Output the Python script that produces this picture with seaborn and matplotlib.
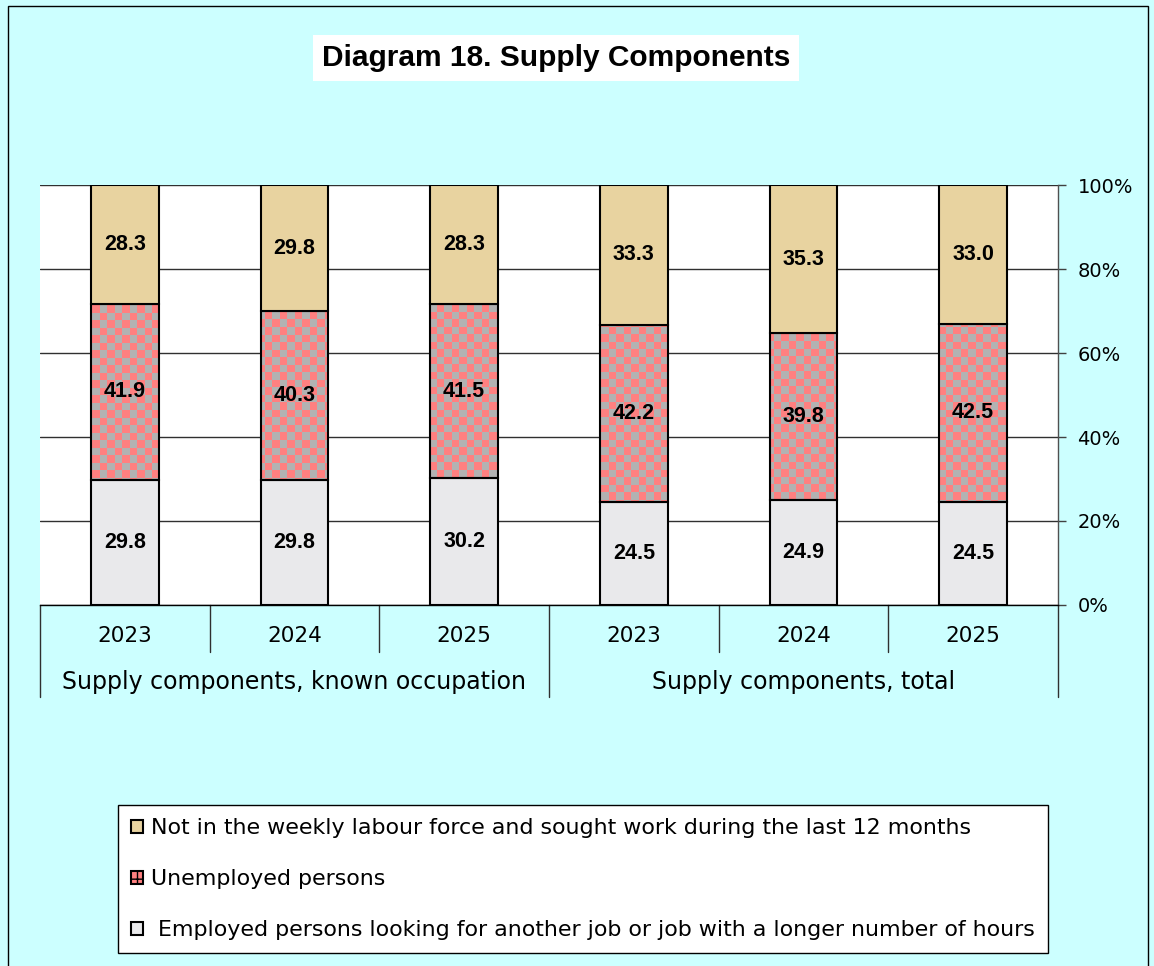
"""Diagram 18: supply components, stacked 100% bars for two groups of years."""

import matplotlib.pyplot as plt
import matplotlib.transforms as mtransforms
import numpy as np
import seaborn as sns
from matplotlib.patches import Patch, Rectangle

years = ["2023", "2024", "2025", "2023", "2024", "2025"]
groups = ["Supply components, known occupation", "Supply components, total"]
slots = ["known 2023", "known 2024", "known 2025", "total 2023", "total 2024", "total 2025"]

employed = np.array([29.8, 29.8, 30.2, 24.5, 24.9, 24.5])
unemployed = np.array([41.9, 40.3, 41.5, 42.2, 39.8, 42.5])
not_in_lf = np.array([28.3, 29.8, 28.3, 33.3, 35.3, 33.0])

series_names = [
    "Not in the weekly labour force and sought work during the last 12 months",
    "Unemployed persons",
    " Employed persons looking for another job or job with a longer number of hours",
]

_BG = "#CCFFFF"
_TAN = "#E8D3A0"
_PINK = "#FF8080"
_GREY = "#B2B2B2"
_MARBLE = "#E9E9EB"

sns.set_theme(style="white")
plt.rcParams["font.family"] = ["DejaVu Sans"]
plt.rcParams["text.color"] = "black"
plt.rcParams["hatch.color"] = _GREY

fig = plt.figure(figsize=(11.54, 9.66), dpi=100)
fig.patch.set_facecolor(_BG)
ax = fig.add_axes([40 / 1154, 1 - 605 / 966, 1018 / 1154, 420 / 966])
ax.set_facecolor("white")

bar_kw = dict(order=slots, width=0.4, edgecolor="black", linewidth=1.5,
              errorbar=None, saturation=1, ax=ax, zorder=3)

sns.barplot(x=slots, y=employed, color=_MARBLE, **bar_kw)
emp_bars = ax.containers[-1]
sns.barplot(x=slots, y=unemployed, bottom=employed, color=_PINK, **bar_kw)
unemp_bars = ax.containers[-1]
sns.barplot(x=slots, y=not_in_lf, bottom=employed + unemployed, color=_TAN, **bar_kw)
nlf_bars = ax.containers[-1]

# checkerboard fill for the unemployed segments
cells = np.indices((56, 136)).sum(axis=0) % 2
checker = np.where(cells[..., None] == 1,
                   np.array([255, 128, 128]) / 255, np.array([178, 178, 178]) / 255)
for bar in unemp_bars:
    bar.set_facecolor("none")
    bar.set_edgecolor("black")
    img = ax.imshow(checker, extent=[0, 1, 0, 1], transform=ax.transAxes,
                    aspect="auto", interpolation="nearest", zorder=2.5)
    img.set_clip_path(bar)

for bars, vals in [(emp_bars, employed), (unemp_bars, unemployed), (nlf_bars, not_in_lf)]:
    ax.bar_label(bars, labels=[f"{v:.1f}" for v in vals], label_type="center",
                 fontsize=15.5, fontweight="bold", color="black",
                 family="Liberation Sans", zorder=5)

ax.set_xlim(-0.5, 5.5)
ax.set_ylim(0, 100)
ax.set_yticks(np.arange(0, 101, 20))
ax.set_yticklabels([f"{v}%" for v in range(0, 101, 20)])
ax.yaxis.tick_right()
ax.tick_params(axis="y", length=6, width=1, color="#404040", pad=8,
               labelsize=14, labelcolor="black", right=True, left=False)
ax.grid(axis="y", color="#303030", linewidth=1)
ax.set_axisbelow(True)

ax.set_xticks(range(len(years)))
ax.set_xticklabels(years, fontsize=15.5, color="black")
ax.tick_params(axis="x", length=0, pad=15, bottom=False)
ax.set_xlabel("")
ax.set_ylabel("")

for side in ["left", "top"]:
    ax.spines[side].set_visible(False)
ax.spines["right"].set_color("#505050")
ax.spines["right"].set_linewidth(1)
ax.spines["bottom"].set_color("black")
ax.spines["bottom"].set_linewidth(1)

# category separators below the axis
trans = mtransforms.blended_transform_factory(ax.transData, ax.transAxes)
for xb in [0.5, 1.5, 3.5, 4.5]:
    ax.plot([xb, xb], [0, -47 / 420], color="#303030", lw=1, transform=trans, clip_on=False)
for xb in [-0.5, 2.5, 5.5]:
    ax.plot([xb, xb], [0, -92 / 420], color="#303030", lw=1, transform=trans, clip_on=False)
for gx, gname in zip([1, 4], groups):
    ax.text(gx, -77 / 420, gname, transform=trans, ha="center", va="center",
            fontsize=17, color="black")

fig.text(556 / 1154, 1 - 58 / 966, "Diagram 18. Supply Components", ha="center", va="center",
         fontsize=21.5, fontweight="bold", family="Liberation Sans", color="black",
         bbox=dict(facecolor="white", edgecolor="none", boxstyle="square,pad=0.3"))

handles = [
    Patch(facecolor=_TAN, edgecolor="black", linewidth=1.5),
    Patch(facecolor=_PINK, edgecolor="black", linewidth=1.5, hatch="++"),
    Patch(facecolor=_MARBLE, edgecolor="black", linewidth=1.5),
]
leg = fig.legend(handles, series_names, loc="upper left",
                 bbox_to_anchor=(118 / 1154, 1 - 805 / 966), borderaxespad=0,
                 fontsize=15.9, labelcolor="black", frameon=True, fancybox=False,
                 edgecolor="black", facecolor="white", framealpha=1,
                 handlelength=0.55, handleheight=0.55, handletextpad=0.35,
                 labelspacing=1.4, borderpad=0.6)
leg.get_frame().set_linewidth(1)

fig.add_artist(Rectangle((8 / 1154, -0.01), 1140 / 1154, 1 - 6 / 966 + 0.01,
                         transform=fig.transFigure, fill=False, edgecolor="black", lw=1))

fig.savefig("out.png", dpi=100, facecolor=fig.get_facecolor())
